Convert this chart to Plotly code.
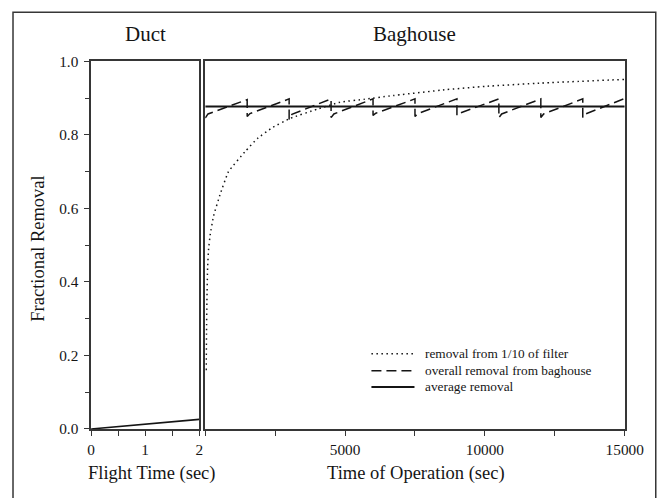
import plotly.graph_objects as go

# ---- data -------------------------------------------------------------
# Duct: fractional removal vs. flight time (s)
duct_t = [0.0, 2.0]
duct_removal = [0.0, 0.026]

# Baghouse: removal from one compartment (1/10 of the filter) vs. time (s)
tenth_t = [35, 45, 60, 85, 120, 180, 300, 540, 830, 1430, 1860, 2400, 3040,
           4000, 4820, 5700, 6600, 8600, 10000, 12000, 15000]
tenth_removal = [0.16, 0.26, 0.35, 0.44, 0.49, 0.53, 0.58, 0.64, 0.70, 0.755,
                 0.79, 0.82, 0.845, 0.87, 0.889, 0.897, 0.906, 0.923, 0.932,
                 0.941, 0.951]

# Overall baghouse removal (one compartment cleaned every 1500 s)
overall_t = [0, 100, 1500, 1500, 1600, 3000, 3000, 3100, 4500, 4500, 4600,
             6000, 6000, 6100, 7500, 7500, 7600, 9000, 9000, 9100, 10500,
             10500, 10600, 12000, 12000, 12100, 13500, 13500, 13600, 15000]
overall_removal = [0.846, 0.857, 0.896, 0.850, 0.858, 0.898, 0.842, 0.856,
                   0.898, 0.847, 0.857, 0.898, 0.853, 0.859, 0.898, 0.850,
                   0.858, 0.898, 0.853, 0.859, 0.898, 0.847, 0.857, 0.898,
                   0.847, 0.857, 0.898, 0.847, 0.857, 0.899]

# Time-averaged removal
average_t = [0, 15000]
average_removal = [0.877, 0.877]

legend_labels = ["removal from 1/10 of filter",
                 "overall removal from baghouse",
                 "average removal"]

# ---- page geometry ----------------------------------------------------------
# Layout positions below are given in screen pixels of the final page; they
# are converted to paper fractions of a slightly larger figure that sits
# inside the page's default body margin.
W, H = 679, 508
SCALE = 0.965
OFF_X, OFF_Y = 5.0, 7.7
FONT = "Liberation Serif, Times New Roman, serif"
INK = "#151515"
FRAME = "#363636"


def px(x):
    return min((x - OFF_X) / SCALE, W - 1) / W


def py(y):
    return 1 - (y - OFF_Y) / SCALE / H


fig = go.Figure()

fig.add_trace(go.Scatter(x=duct_t, y=duct_removal, mode="lines",
                         line=dict(color=INK, width=1.6),
                         xaxis="x", yaxis="y", showlegend=False))

fig.add_trace(go.Scatter(x=tenth_t, y=tenth_removal, mode="lines",
                         line=dict(color=INK, width=1.5, dash="1.5px,3.5px",
                                   shape="spline", smoothing=0.3),
                         xaxis="x2", yaxis="y2", showlegend=False))

fig.add_trace(go.Scatter(x=overall_t, y=overall_removal, mode="lines",
                         line=dict(color=INK, width=1.5, dash="10px,5px"),
                         xaxis="x2", yaxis="y2", showlegend=False))

fig.add_trace(go.Scatter(x=average_t, y=average_removal, mode="lines",
                         line=dict(color=INK, width=2),
                         xaxis="x2", yaxis="y2", showlegend=False))

y_dom = [py(427), py(60)]
tickfont = dict(family=FONT, size=15.3, color=INK)
tick_style = dict(ticks="outside", ticklen=5, tickcolor=FRAME, tickwidth=1.2)
frame_style = dict(showline=True, linecolor=FRAME, linewidth=1.5, mirror=True,
                   showgrid=False, zeroline=False)

fig.update_layout(
    width=W, height=H,
    margin=dict(l=0, r=0, t=0, b=0),
    paper_bgcolor="white", plot_bgcolor="white",
    font=dict(family=FONT, color=INK),
    xaxis=dict(domain=[px(92), px(200)], range=[0, 2],
               tickvals=[0, 1, 2],
               minor=dict(dtick=0.5, tick0=0, ticks="outside", ticklen=5,
                          tickcolor=FRAME, tickwidth=1.2),
               tickfont=tickfont, ticklabelstandoff=1,
               **tick_style, **frame_style),
    yaxis=dict(domain=y_dom, range=[0, 1],
               tickvals=[0, 0.2, 0.4, 0.6, 0.8, 1.0], tickformat=".1f",
               minor=dict(dtick=0.1, tick0=0, ticks="outside", ticklen=4,
                          tickcolor=FRAME, tickwidth=1.2),
               tickfont=tickfont, ticklabelstandoff=3,
               **tick_style, **frame_style),
    xaxis2=dict(domain=[px(206), px(625)], range=[0, 15000], anchor="y2",
                tickvals=[0, 5000, 10000, 15000],
                ticktext=["", "5000", "10000", "15000"],
                minor=dict(dtick=2500, tick0=0, ticks="outside", ticklen=5,
                           tickcolor=FRAME, tickwidth=1.2),
                tickfont=tickfont, ticklabelstandoff=1,
                **tick_style, **frame_style),
    yaxis2=dict(domain=y_dom, range=[0, 1], anchor="x2",
                showticklabels=False, ticks="", **frame_style),
)

# outer border (open at the bottom)
fig.add_shape(type="rect", xref="paper", yref="paper",
              x0=px(14), x1=px(656), y0=-0.05, y1=py(11),
              line=dict(color=FRAME, width=1.5), fillcolor="rgba(0,0,0,0)")

title_font = dict(family=FONT, size=21, color=INK)
label_font = dict(family=FONT, size=18.5, color=INK)
annots = [
    dict(text="Duct", x=px(146), y=py(33), font=title_font),
    dict(text="Baghouse", x=px(415), y=py(33), font=title_font),
    dict(text="Flight Time (sec)", x=px(152), y=py(471), font=label_font),
    dict(text="Time of Operation (sec)", x=px(417), y=py(471), font=label_font),
    dict(text="Fractional Removal", x=px(39), y=py(247), font=label_font,
         textangle=-90),
]
for a in annots:
    fig.add_annotation(xref="paper", yref="paper", showarrow=False,
                       xanchor="center", yanchor="middle", **a)

# legend: line sample + label for each series
legend_styles = [dict(dash="1.5px,3.5px", width=1.5),
                 dict(dash="10px,5px", width=1.5),
                 dict(dash="solid", width=2)]
row_y = [352, 369, 385]
for label, style, ry in zip(legend_labels, legend_styles, row_y):
    fig.add_shape(type="line", xref="paper", yref="paper",
                  x0=px(372), x1=px(415), y0=py(ry), y1=py(ry),
                  line=dict(color=INK, **style))
    fig.add_annotation(xref="paper", yref="paper", showarrow=False,
                       x=px(424), y=py(ry), xanchor="left", yanchor="middle",
                       text=label, font=dict(family=FONT, size=13.3, color=INK))

fig.write_html("out.html")
